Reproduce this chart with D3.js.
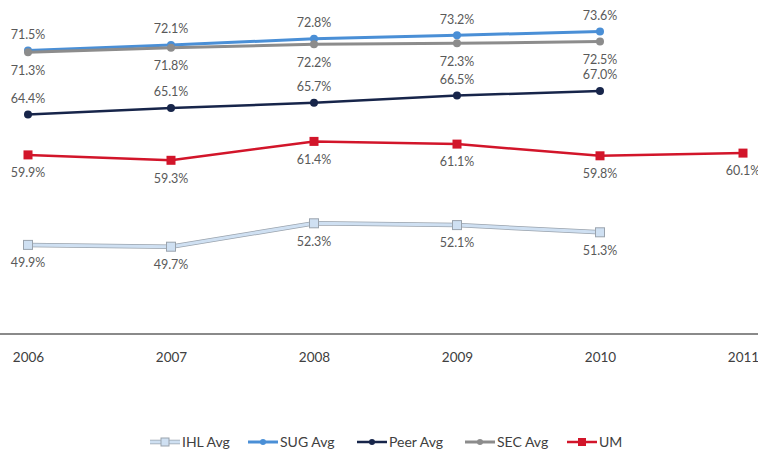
<!DOCTYPE html>
<html>
<head>
<meta charset="utf-8">
<script src="https://cdn.jsdelivr.net/npm/d3@7"></script>
<style>
  body { margin: 0; background: #fff; }
  svg { display: block; font-family: Lato, "Open Sans", sans-serif; }
</style>
</head>
<body>
<div id="chart"></div>
<script>
const years = ["2006", "2007", "2008", "2009", "2010", "2011"];
const ihlAvg = [49.9, 49.7, 52.3, 52.1, 51.3, null];
const sugAvg = [71.5, 72.1, 72.8, 73.2, 73.6, null];
const peerAvg = [64.4, 65.1, 65.7, 66.5, 67.0, null];
const secAvg = [71.3, 71.8, 72.2, 72.3, 72.5, null];
const umVals = [59.9, 59.3, 61.4, 61.1, 59.8, 60.1];

const series = [
  { name: "IHL Avg", values: ihlAvg, color: "#cfe0f2", outline: "#9aa3ad", width: 3, marker: "square", labelPos: "below" },
  { name: "SUG Avg", values: sugAvg, color: "#4a8fd6", width: 3, marker: "circle", labelPos: "above" },
  { name: "Peer Avg", values: peerAvg, color: "#17254a", width: 2.5, marker: "circle", labelPos: "above" },
  { name: "SEC Avg", values: secAvg, color: "#8c8c8c", width: 3, marker: "circle", labelPos: "below" },
  { name: "UM", values: umVals, color: "#d2152a", width: 2.5, marker: "square", labelPos: "below" }
];

const width = 758, height = 450;
const svg = d3.select("#chart").append("svg")
  .attr("width", width)
  .attr("height", height);

let x = d3.scalePoint()
  .domain(years)
  .range([28, 743]);

let y = d3.scaleLinear()
  .domain([40, 80])
  .range([334, -26]);

// category axis line
svg.append("line")
  .attr("x1", 0).attr("x2", width)
  .attr("y1", y(40)).attr("y2", y(40))
  .attr("stroke", "#8a8a8a")
  .attr("stroke-width", 2);

let xAxis = svg.append("g")
  .attr("transform", `translate(0, ${y(40)})`)
  .call(d3.axisBottom(x).tickSize(0).tickPadding(18));
xAxis.select(".domain").remove();
xAxis.selectAll("text")
  .attr("font-size", 13.5)
  .attr("font-family", "Lato, 'Open Sans', sans-serif")
  .attr("fill", "#404040");

series.forEach(s => {
  let pts = years.map((yr, i) => ({ year: yr, v: s.values[i] })).filter(d => d.v != null);
  let line = d3.line()
    .x(d => x(d.year))
    .y(d => y(d.v));
  let g = svg.append("g").attr("class", "series");

  if (s.outline) {
    g.append("path")
      .datum(pts)
      .attr("d", line)
      .attr("fill", "none")
      .attr("stroke", s.outline)
      .attr("stroke-width", s.width + 1.5);
  }
  g.append("path")
    .datum(pts)
    .attr("d", line)
    .attr("fill", "none")
    .attr("stroke", s.color)
    .attr("stroke-width", s.width)
    .attr("stroke-linejoin", "round");

  if (s.marker === "circle") {
    g.selectAll("circle")
      .data(pts)
      .enter().append("circle")
      .attr("cx", d => x(d.year))
      .attr("cy", d => y(d.v))
      .attr("r", 4)
      .attr("fill", s.color);
  } else {
    g.selectAll("rect")
      .data(pts)
      .enter().append("rect")
      .attr("x", d => x(d.year) - 4.5)
      .attr("y", d => y(d.v) - 4.5)
      .attr("width", 9)
      .attr("height", 9)
      .attr("fill", s.color)
      .attr("stroke", s.outline || "none")
      .attr("stroke-width", 1);
  }

  g.selectAll("text")
    .data(pts)
    .enter().append("text")
    .attr("x", d => x(d.year))
    .attr("y", d => y(d.v) + (s.labelPos === "above" ? -16 : 18))
    .attr("dy", "0.35em")
    .attr("text-anchor", "middle")
    .attr("font-size", 12.5)
    .attr("fill", "#595959")
    .text(d => d.v.toFixed(1) + "%");
});

// legend
const legendX = [150, 248, 357, 465, 567];
const legendY = 442;
let legend = svg.append("g").attr("class", "legend");
series.forEach((s, i) => {
  let lg = legend.append("g").attr("transform", `translate(${legendX[i]}, ${legendY})`);
  if (s.outline) {
    lg.append("line").attr("x1", 0).attr("x2", 30).attr("y1", 0).attr("y2", 0)
      .attr("stroke", s.outline).attr("stroke-width", s.width + 1.5);
  }
  lg.append("line").attr("x1", 0).attr("x2", 30).attr("y1", 0).attr("y2", 0)
    .attr("stroke", s.color).attr("stroke-width", s.width);
  if (s.marker === "circle") {
    lg.append("circle").attr("cx", 15).attr("cy", 0).attr("r", 3).attr("fill", s.color);
  } else {
    lg.append("rect").attr("x", 11).attr("y", -4).attr("width", 8).attr("height", 8)
      .attr("fill", s.color).attr("stroke", s.outline || "none");
  }
  lg.append("text")
    .attr("x", 32)
    .attr("y", 0)
    .attr("dy", "0.35em")
    .attr("font-size", 14)
    .attr("fill", "#404040")
    .text(s.name);
});
</script>
</body>
</html>
